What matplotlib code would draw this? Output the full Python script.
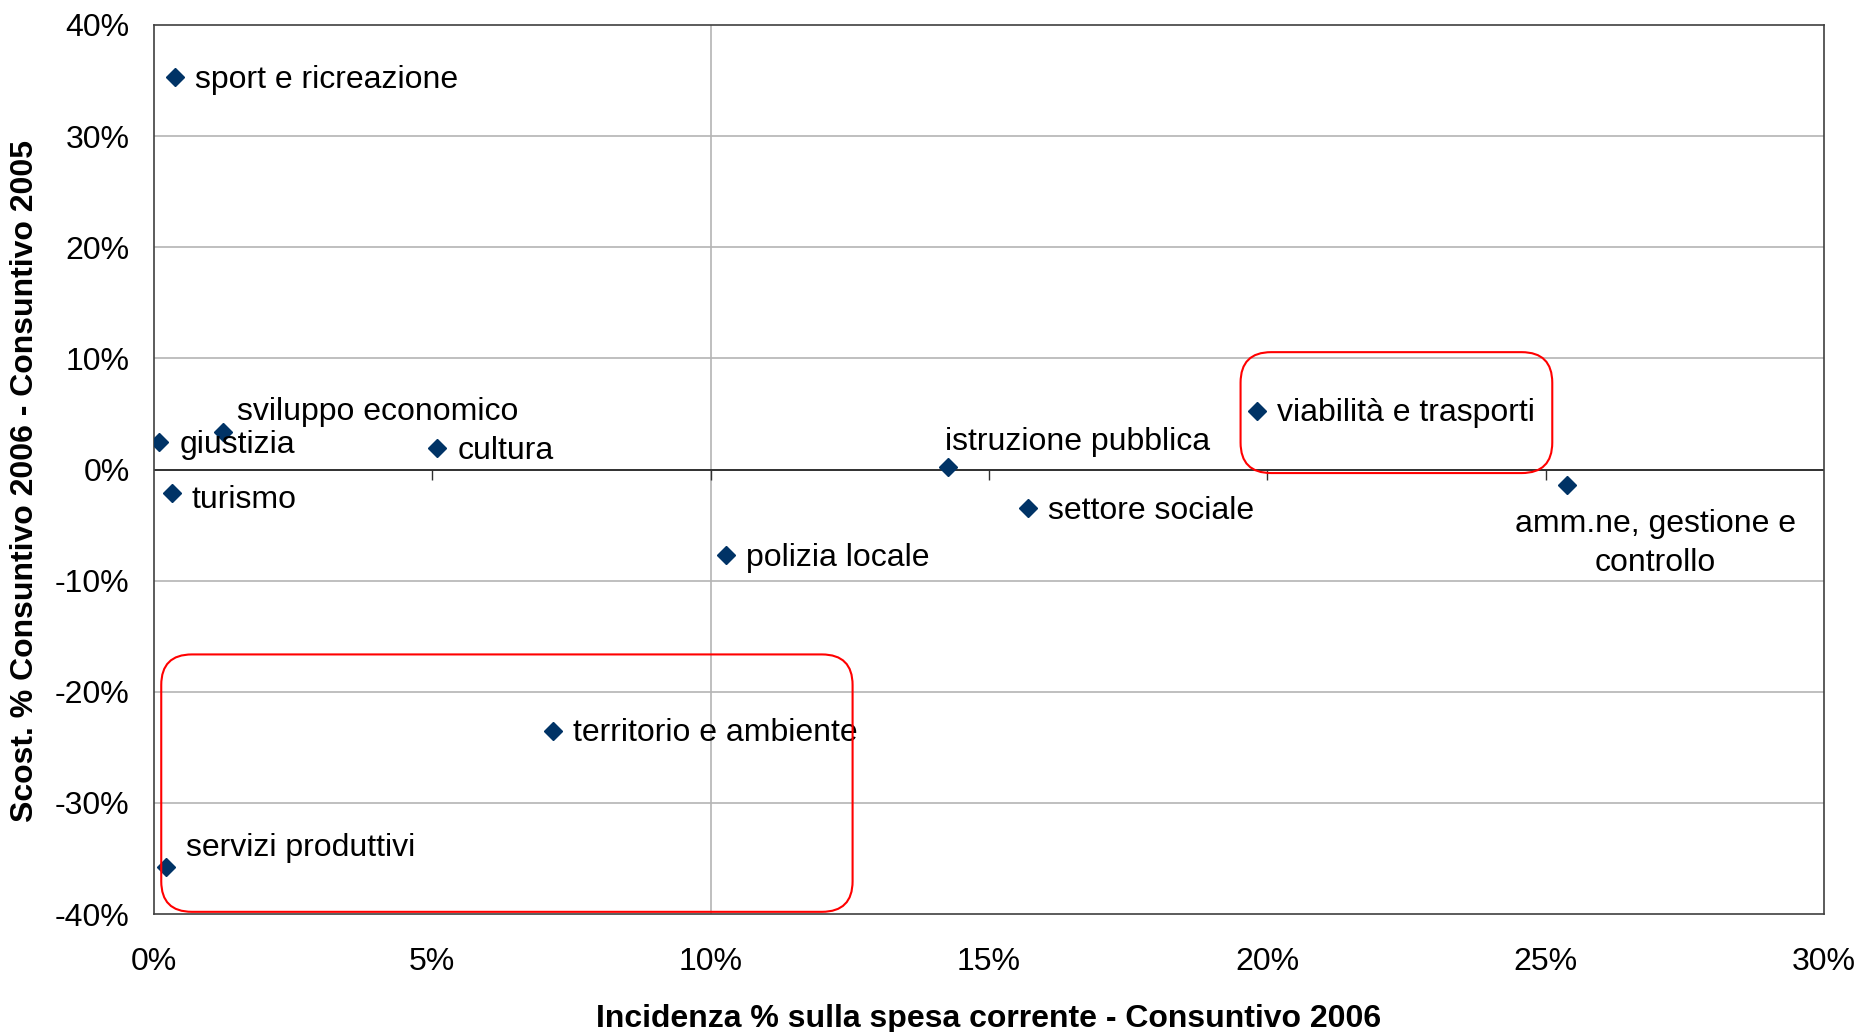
import matplotlib.pyplot as plt
from matplotlib.patches import FancyBboxPatch
from matplotlib.ticker import FuncFormatter

plt.rcParams['font.family'] = ['Liberation Sans', 'DejaVu Sans']

# ---------- data ----------
settori = ["sport e ricreazione", "giustizia", "sviluppo economico", "cultura",
           "turismo", "polizia locale", "istruzione pubblica", "settore sociale",
           "viabilità e trasporti", "amm.ne, gestione e\ncontrollo",
           "territorio e ambiente", "servizi produttivi"]
incidenza = [0.38, 0.09, 1.24, 5.09, 0.32, 10.27, 14.26, 15.7, 19.82, 25.38, 7.16, 0.21]
scostamento = [35.3, 2.45, 3.4, 1.9, -2.1, -7.7, 0.2, -3.5, 5.3, -1.4, -23.5, -35.8]

x_ticks = [0, 5, 10, 15, 20, 25, 30]
y_ticks = [-40, -30, -20, -10, 0, 10, 20, 30, 40]

# label offsets in points (dx, dy, ha)
default_off = (14.5, -2, "left")
label_off = {
    "sviluppo economico": (10, 14, "left"),
    "turismo": (14.5, -5.4, "left"),
    "istruzione pubblica": (-2, 18.5, "left"),
    "amm.ne, gestione e\ncontrollo": (64, -42, "center"),
    "servizi produttivi": (14.5, 14, "left"),
}

FS = 23

# ---------- plot ----------
fig = plt.figure(figsize=(18.6, 10.32), dpi=100)
ax = fig.add_axes([0.0828, 0.1143, 0.8978, 0.8615])

ax.set_xlim(0, 30)
ax.set_ylim(-40, 40)
ax.set_xticks(x_ticks)
ax.set_yticks(y_ticks)
ax.xaxis.set_major_formatter(FuncFormatter(lambda v, p: f"{v:.0f}%"))
ax.yaxis.set_major_formatter(FuncFormatter(lambda v, p: f"{v:.0f}%"))
ax.tick_params(axis="both", length=0, labelsize=FS)
ax.tick_params(axis="x", pad=24)
ax.tick_params(axis="y", pad=17.5)

for sp in ax.spines.values():
    sp.set_color("#404040")
    sp.set_linewidth(1.2)

# grid: horizontal every 10%, one vertical line at 10%
for yv in y_ticks[1:-1]:
    if yv != 0:
        ax.axhline(yv, color="#b4b4b4", lw=1.2, zorder=0)
ax.axvline(10, color="#b4b4b4", lw=1.2, zorder=0)

# x axis crossing at zero with small tick marks
ax.axhline(0, color="#303030", lw=1.4, zorder=1)
ax.plot(x_ticks[1:-1], [0] * (len(x_ticks) - 2), ls="none", marker=3,
        markersize=7, color="#303030", markeredgewidth=1.0, zorder=1)

ax.plot(incidenza, scostamento, ls="none", marker="D", markersize=9.5,
        color="#003366", zorder=3)

for name, xv, yv in zip(settori, incidenza, scostamento):
    dx, dy, ha = label_off.get(name, default_off)
    ax.annotate(name, (xv, yv), xytext=(dx, dy), textcoords="offset points",
                ha=ha, va="center", fontsize=FS, color="black",
                linespacing=1.38, zorder=4)

# red rounded highlight boxes
for (x0, y0, x1, y1) in [(19.52, -0.32, 25.12, 10.56), (0.13, -39.8, 12.55, -16.64)]:
    box = FancyBboxPatch((x0, y0), x1 - x0, y1 - y0,
                         boxstyle="round,pad=0,rounding_size=0.55",
                         mutation_aspect=5.0, fill=False,
                         edgecolor="#ff0000", lw=1.5, zorder=5)
    ax.add_patch(box)

ax.set_xlabel("Incidenza % sulla spesa corrente - Consuntivo 2006",
              fontsize=FS, fontweight="bold", labelpad=19)
ax.set_ylabel("Scost. % Consuntivo 2006 - Consuntivo 2005",
              fontsize=FS, fontweight="bold")
ax.yaxis.set_label_coords(-0.068, 0.487)

fig.savefig("out.png", dpi=100)
